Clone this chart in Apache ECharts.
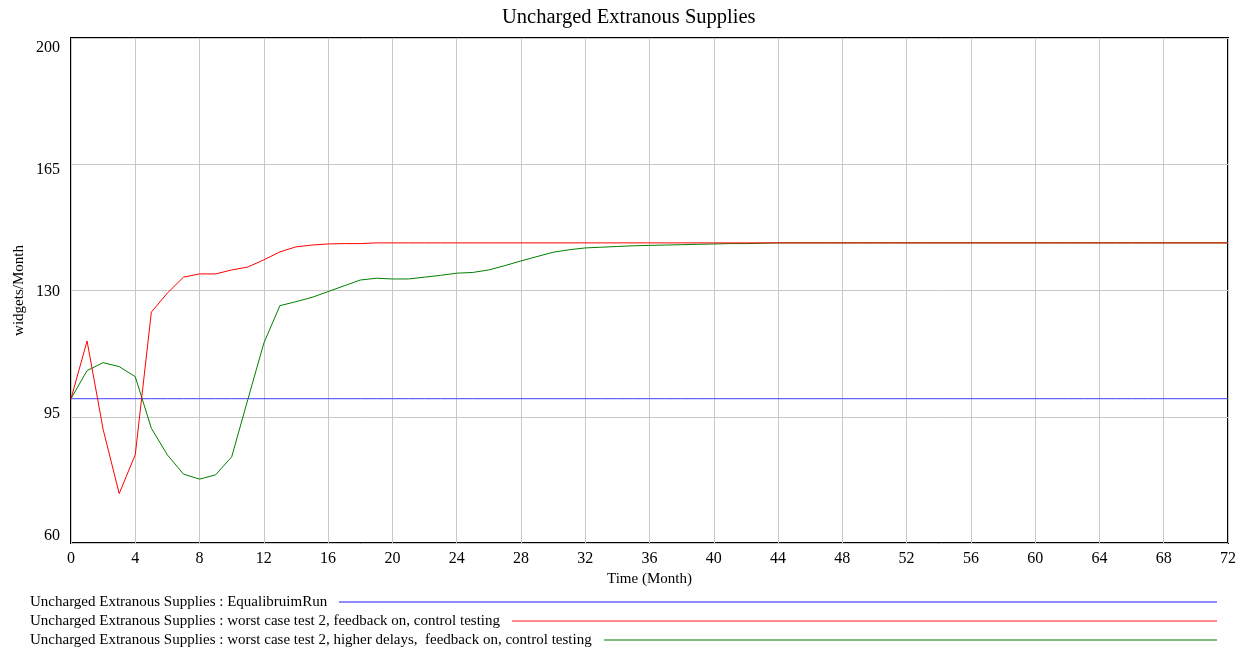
<!DOCTYPE html>
<html>
<head>
<meta charset="utf-8">
<script src="https://cdn.jsdelivr.net/npm/echarts@6/dist/echarts.min.js"></script>
<style>
  html, body { margin: 0; padding: 0; background: #fff; }
  #chart { width: 1244px; height: 651px; }
</style>
</head>
<body>
<div id="chart"></div>
<script>
// Time axis (months) and the three simulated runs of Uncharged Extranous Supplies
const months = [
  0, 1, 2, 3, 4, 5, 6, 7, 8, 9, 10, 11, 12, 13, 14, 15, 16, 17, 18, 19, 20,
  21, 22, 23, 24, 25, 26, 27, 28, 29, 30, 31, 32, 33, 34, 35, 36, 37, 38, 39, 40,
  41, 42, 43, 44, 45, 46, 47, 48, 49, 50, 51, 52, 53, 54, 55, 56, 57, 58, 59, 60,
  61, 62, 63, 64, 65, 66, 67, 68, 69, 70, 71, 72
];

const equilibriumRun = [
  100, 100, 100, 100, 100, 100, 100, 100, 100, 100, 100, 100, 100, 100, 100, 100, 100, 100, 100, 100, 100,
  100, 100, 100, 100, 100, 100, 100, 100, 100, 100, 100, 100, 100, 100, 100, 100, 100, 100, 100, 100,
  100, 100, 100, 100, 100, 100, 100, 100, 100, 100, 100, 100, 100, 100, 100, 100, 100, 100, 100, 100,
  100, 100, 100, 100, 100, 100, 100, 100, 100, 100, 100, 100
];

const worstCase2 = [
  100, 116.0, 91.5, 73.7, 84.5, 124.0, 129.3, 133.7, 134.6, 134.6, 135.7,
  136.5, 138.5, 140.7, 142.1, 142.6, 142.9, 143.0, 143.0, 143.2, 143.2,
  143.2, 143.2, 143.2, 143.2, 143.2, 143.2, 143.2, 143.2, 143.2, 143.2,
  143.2, 143.2, 143.2, 143.2, 143.2, 143.2, 143.2, 143.2, 143.2, 143.2,
  143.2, 143.2, 143.2, 143.2, 143.2, 143.2, 143.2, 143.2, 143.2, 143.2,
  143.2, 143.2, 143.2, 143.2, 143.2, 143.2, 143.2, 143.2, 143.2, 143.2,
  143.2, 143.2, 143.2, 143.2, 143.2, 143.2, 143.2, 143.2, 143.2, 143.2,
  143.2, 143.2
];

const worstCase2Delays = [
  100, 107.8, 110.0, 108.9, 106.1, 91.8, 84.4, 79.1, 77.7, 78.9, 83.9,
  99.7, 115.4, 125.8, 126.9, 128.1, 129.7, 131.3, 132.9, 133.4, 133.2,
  133.2, 133.7, 134.2, 134.8, 135.0, 135.7, 136.9, 138.2, 139.4, 140.6,
  141.3, 141.8, 142.0, 142.2, 142.4, 142.5, 142.6, 142.7, 142.8, 142.9,
  143.0, 143.0, 143.1, 143.2, 143.2, 143.2, 143.2, 143.2, 143.2, 143.2,
  143.2, 143.2, 143.2, 143.2, 143.2, 143.2, 143.2, 143.2, 143.2, 143.2,
  143.2, 143.2, 143.2, 143.2, 143.2, 143.2, 143.2, 143.2, 143.2, 143.2,
  143.2, 143.2
];

const yTickLabels = [60, 95, 130, 165, 200];

const runNames = [
  'Uncharged Extranous Supplies : EqualibruimRun',
  'Uncharged Extranous Supplies : worst case test 2, feedback on, control testing',
  'Uncharged Extranous Supplies : worst case test 2, higher delays,  feedback on, control testing'
];
const runColors = ['#3d3dff', '#ff0000', '#008000'];
const legendColors = ['#6666ff', '#ff6666', '#55aa55'];

const FONT = '"Liberation Serif", "Times New Roman", serif';
const LEGEND_FONT = '15px ' + FONT;

function pairs(values) {
  return months.map((m, i) => [m, values[i]]);
}

// Legend rows: label text followed by a sample line running to the right edge
function legendGraphics() {
  const ctx = document.createElement('canvas').getContext('2d');
  ctx.font = LEGEND_FONT;
  const els = [];
  const rowY = [602, 621, 640];
  runNames.forEach((name, i) => {
    const w = ctx.measureText(name).width;
    els.push({
      type: 'text', x: 30, y: rowY[i],
      style: { text: name, font: LEGEND_FONT, fill: '#000', verticalAlign: 'middle', align: 'left' }
    });
    els.push({
      type: 'line',
      shape: { x1: Math.round(30 + w + 12), y1: rowY[i], x2: 1217, y2: rowY[i] },
      style: { stroke: legendColors[i], lineWidth: 1.5 }
    });
  });
  return els;
}

const chart = echarts.init(document.getElementById('chart'), null, { renderer: 'canvas' });

chart.setOption({
  animation: false,
  backgroundColor: '#fff',
  title: {
    text: 'Uncharged Extranous Supplies',
    left: 497, top: 2,
    textStyle: { fontFamily: FONT, fontSize: 20.5, fontWeight: 'normal', color: '#000' }
  },
  grid: {
    left: 71, right: 16, top: 38, bottom: 108,
    show: true, borderColor: '#000', borderWidth: 2, backgroundColor: 'transparent'
  },
  xAxis: {
    type: 'value', min: 0, max: 72, interval: 4,
    name: 'Time (Month)', nameLocation: 'middle', nameGap: 29,
    nameTextStyle: { fontFamily: FONT, fontSize: 15, color: '#000' },
    axisLine: { show: false },
    axisTick: { show: false },
    axisLabel: { fontFamily: FONT, fontSize: 16, color: '#000', margin: 8 },
    splitLine: { show: true, lineStyle: { color: '#c8c8c8', width: 1 } }
  },
  yAxis: [
    {
      type: 'value', min: 60, max: 200, interval: 35,
      name: 'widgets/Month', nameLocation: 'middle', nameGap: 44,
      nameTextStyle: { fontFamily: FONT, fontSize: 15, color: '#000' },
      axisLine: { show: false },
      axisTick: { show: false },
      axisLabel: { show: false },
      splitLine: { show: true, lineStyle: { color: '#c8c8c8', width: 1 } }
    },
    {
      // label-only axis: tick values sit slightly inward from the frame edges
      type: 'value', position: 'left', min: 57.99, max: 202.87,
      axisLine: { show: false },
      axisTick: { show: false },
      splitLine: { show: false },
      axisLabel: {
        customValues: yTickLabels,
        fontFamily: FONT, fontSize: 16, color: '#000', margin: 11,
        formatter: v => String(Math.round(v))
      }
    }
  ],
  series: [
    {
      name: runNames[0], type: 'line', data: pairs(equilibriumRun),
      showSymbol: false, lineStyle: { color: runColors[0], width: 1 }, z: 3
    },
    {
      name: runNames[2], type: 'line', data: pairs(worstCase2Delays),
      showSymbol: false, lineStyle: { color: runColors[2], width: 1 }, z: 3
    },
    {
      name: runNames[1], type: 'line', data: pairs(worstCase2),
      showSymbol: false, lineStyle: { color: runColors[1], width: 1 }, z: 4
    }
  ],
  graphic: legendGraphics()
});
</script>
</body>
</html>
